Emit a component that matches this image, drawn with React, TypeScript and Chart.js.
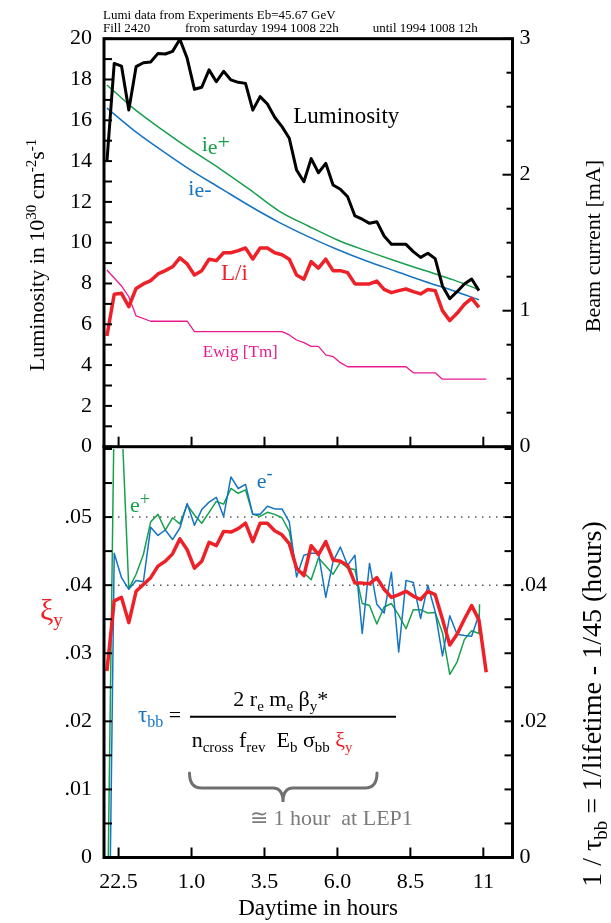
import React, { useEffect, useRef } from "react";
import { Chart, registerables } from "chart.js";

Chart.register(...registerables);

// ---------- data (time axis: hours after midnight, 22h of the previous day = -2) ----------
const hours = [
  -1.9, -1.65, -1.4, -1.15, -0.9, -0.65, -0.4, -0.15, 0.1, 0.35, 0.6, 0.85, 1.1, 1.35, 1.6, 1.85,
  2.1, 2.35, 2.6, 2.85, 3.1, 3.35, 3.6, 3.85, 4.1, 4.35, 4.6, 4.85, 5.1, 5.35, 5.6, 5.85, 6.1, 6.35,
  6.6, 6.85, 7.1, 7.35, 7.6, 7.85, 8.1, 8.35, 8.6, 8.85, 9.1, 9.35, 9.6, 9.85, 10.1, 10.35, 10.6,
  10.85, 11.1,
];

const luminosity = [
  13.97, 18.79, 18.66, 16.5, 18.63, 18.82, 18.86, 19.28, 19.25, 19.38, 19.97, 19.04, 17.52, 17.62,
  18.47, 17.89, 18.4, 17.98, 17.86, 17.81, 16.5, 17.16, 16.8, 16.15, 15.69, 15.12, 13.56, 12.99,
  14.12, 13.43, 13.89, 12.83, 12.62, 12.25, 11.31, 11.15, 10.95, 11.03, 10.33, 9.92, 9.92, 9.92,
  9.56, 9.28, 9.48, 9.22, 7.88, 7.25, 7.6, 7.98, 8.22, 7.65,
];

const lumiPerCurrent = [
  5.43, 7.47, 7.52, 6.86, 7.76, 7.98, 8.14, 8.47, 8.63, 8.82, 9.26, 8.96, 8.42, 8.63, 9.19, 9.12,
  9.51, 9.51, 9.61, 9.74, 9.2, 9.74, 9.74, 9.51, 9.41, 9.19, 8.42, 8.21, 9.07, 8.75, 9.19, 8.63,
  8.63, 8.53, 7.98, 7.98, 7.98, 8.12, 7.71, 7.55, 7.65, 7.73, 7.6, 7.49, 7.71, 7.65, 6.67, 6.18,
  6.54, 6.98, 7.27, 6.83,
];

const currentHours = [-1.9, -1, 0, 1, 2, 3, 4, 5, 6, 7, 8, 9, 10, 10.85];
const currentPositron = [2.66, 2.49, 2.33, 2.18, 2.04, 1.89, 1.733, 1.623, 1.52, 1.44, 1.365, 1.295, 1.225, 1.155];
const currentElectron = [2.49, 2.33, 2.175, 2.03, 1.9, 1.77, 1.65, 1.545, 1.45, 1.365, 1.29, 1.215, 1.145, 1.08];

const ewigHours = [-1.9, -1.4, -1.15, -0.9, -0.4, 0.85, 1.1, 4.1, 4.35, 4.6, 4.85, 5.1, 5.35, 5.6, 5.85, 6.1, 6.35, 8.35, 8.6, 9.35, 9.6, 11.1];
const ewig = [8.66, 7.88, 7.35, 6.41, 6.15, 6.15, 5.64, 5.64, 5.48, 5.23, 5.1, 4.92, 4.92, 4.5, 4.42, 4.12, 3.92, 3.92, 3.62, 3.62, 3.31, 3.31];

const xiY = [
  0.0274, 0.0377, 0.0382, 0.0345, 0.0391, 0.0401, 0.0411, 0.0428, 0.0435, 0.0446, 0.0468, 0.0452,
  0.0425, 0.0435, 0.0463, 0.0458, 0.0479, 0.0478, 0.0483, 0.0491, 0.0464, 0.0491, 0.0491, 0.048,
  0.0474, 0.0461, 0.0425, 0.0414, 0.0458, 0.0445, 0.0464, 0.0437, 0.0435, 0.0429, 0.0403, 0.0403,
  0.0402, 0.0411, 0.0394, 0.0382, 0.0386, 0.0391, 0.0384, 0.0379, 0.0391, 0.0386, 0.035, 0.0312,
  0.0328, 0.035, 0.037, 0.0349, 0.0272,
];

const tauInvPositron = [
  -0.015, 0.066, 0.065, 0.0395, 0.0416, 0.0445, 0.0493, 0.0504, 0.0481, 0.0499, 0.049, 0.0518,
  0.0503, 0.0491, 0.0507, 0.0523, 0.0519, 0.0542, 0.0535, 0.054, 0.0504, 0.0501, 0.0507, 0.0504,
  0.0499, 0.0479, 0.0423, 0.0418, 0.0408, 0.044, 0.0428, 0.0416, 0.0434, 0.0425, 0.0423, 0.0373,
  0.037, 0.0343, 0.0368, 0.0373, 0.0356, 0.0336, 0.0364, 0.0364, 0.0359, 0.036, 0.033, 0.0269,
  0.0287, 0.032, 0.0333, 0.0329, 0.0372,
];
const tauInvPositronLastHour = 10.87;

const tauInvElectron = [
  -0.04, 0.0447, 0.0411, 0.0394, 0.0407, 0.0405, 0.0485, 0.0473, 0.0481, 0.0467, 0.0484, 0.052,
  0.0488, 0.0511, 0.0522, 0.0529, 0.0501, 0.0559, 0.0542, 0.0548, 0.0504, 0.0504, 0.0516, 0.0512,
  0.0512, 0.0493, 0.0412, 0.0444, 0.0447, 0.0447, 0.0382, 0.0435, 0.0456, 0.0429, 0.0444, 0.0329,
  0.0432, 0.0372, 0.0359, 0.0419, 0.0302, 0.0407, 0.0404, 0.0351, 0.04, 0.0361, 0.0296, 0.0355,
  0.0328, 0.0326, 0.0325, 0.0357,
];

// ---------- ticks ----------
const xTickValues = [-1.5, 1, 3.5, 6, 8.5, 11];
const xTickLabels = ["22.5", "1.0", "3.5", "6.0", "8.5", "11"];
const lumTickValues = [0, 2, 4, 6, 8, 10, 12, 14, 16, 18, 20];
const beamTickValues = [0, 1, 2, 3];
const xiTickValues = [0, 0.01, 0.02, 0.03, 0.04, 0.05];
const xiTickLabels = ["0", ".01", ".02", ".03", ".04", ".05"];
const tauTickValues = [0, 0.02, 0.04];
const tauTickLabels = ["0", ".02", ".04"];
const dottedLevels = [0.04, 0.05];

// ---------- layout / style ----------
const SERIF = "'Liberation Serif', 'Times New Roman', Times, serif";
const RED = "#ee2128";
const GREEN = "#17a04c";
const BLUE = "#1574c2";
const MAGENTA = "#ea1a8e";
const GREY = "#7b7b7b";

const PAGE_W = 611;
const AREA_LEFT = 104;
const AREA_RIGHT = 512.5;
const H1 = 482;
const TOP1 = 38.7;
const BOTTOM1 = 446.7;
const C2_TOP = 412;
const H2 = 923 - C2_TOP;
const TOP2 = 449;
const BOTTOM2 = 857.5;

type Run = { t: string; size: number; dy?: number; color?: string };

function runsWidth(ctx: CanvasRenderingContext2D, runs: Run[]) {
  let w = 0;
  for (const r of runs) {
    ctx.font = `${r.size}px ${SERIF}`;
    w += ctx.measureText(r.t).width;
  }
  return w;
}

function drawRuns(ctx: CanvasRenderingContext2D, x: number, y: number, runs: Run[], color: string) {
  let cx = x;
  ctx.textAlign = "left";
  ctx.textBaseline = "alphabetic";
  for (const r of runs) {
    ctx.font = `${r.size}px ${SERIF}`;
    ctx.fillStyle = r.color || color;
    ctx.fillText(r.t, cx, y + (r.dy || 0));
    cx += ctx.measureText(r.t).width;
  }
  return cx;
}

function drawRotated(ctx: CanvasRenderingContext2D, cx: number, cy: number, runs: Run[], color: string) {
  const w = runsWidth(ctx, runs);
  ctx.save();
  ctx.translate(cx, cy);
  ctx.rotate(-Math.PI / 2);
  drawRuns(ctx, -w / 2, 0, runs, color);
  ctx.restore();
}

const toXY = (xs: number[], ys: number[]) => ys.map((y, i) => ({ x: xs[i], y }));

function fixedTicks(values: number[]) {
  return (scale: any) => {
    scale.ticks = values.map((v) => ({ value: v }));
  };
}

function tickFont() {
  return { family: SERIF, size: 22 };
}

function strokeTick(ctx: CanvasRenderingContext2D, x1: number, y1: number, x2: number, y2: number) {
  ctx.beginPath();
  ctx.moveTo(x1, y1);
  ctx.lineTo(x2, y2);
  ctx.stroke();
}

const topPanelPlugin = {
  id: "topPanel",
  afterDraw(chart: any) {
    const ctx: CanvasRenderingContext2D = chart.ctx;
    const { left, right, top, bottom } = chart.chartArea;
    const x = chart.scales.x;
    const yL = chart.scales.yL;
    const yR = chart.scales.yR;
    ctx.save();
    ctx.strokeStyle = "#000";
    ctx.lineWidth = 3;
    ctx.strokeRect(left, top, right - left, bottom - top);
    ctx.lineWidth = 2;
    for (let k = 0; k <= 20; k++) {
      const py = yL.getPixelForValue(k);
      strokeTick(ctx, left, py, left + 8, py);
    }
    for (let k = 0; k <= 12; k++) {
      const py = yR.getPixelForValue(k * 0.25);
      const len = k % 4 === 0 ? 10 : 6;
      strokeTick(ctx, right, py, right - len, py);
    }
    for (const v of xTickValues) {
      const px = x.getPixelForValue(v);
      strokeTick(ctx, px, bottom, px, bottom - 10);
    }

    // header
    drawRuns(ctx, 103, 18.5, [{ t: "Lumi data from Experiments Eb=45.67 GeV", size: 13 }], "#000");
    drawRuns(ctx, 103, 32, [{ t: "Fill 2420", size: 13 }], "#000");
    drawRuns(ctx, 185, 32, [{ t: "from saturday 1994 1008 22h", size: 13 }], "#000");
    drawRuns(ctx, 372.7, 32, [{ t: "until 1994 1008 12h", size: 13 }], "#000");

    // axis titles
    drawRotated(ctx, 44, 255, [
      { t: "Luminosity in 10", size: 22 },
      { t: "30", size: 15, dy: -8 },
      { t: " cm", size: 22 },
      { t: "-2", size: 15, dy: -8 },
      { t: "s", size: 22 },
      { t: "-1", size: 15, dy: -8 },
    ], "#000");
    drawRotated(ctx, 600, 246, [{ t: "Beam current [mA]", size: 22 }], "#000");

    // in-plot labels
    drawRuns(ctx, 293.3, 122.7, [{ t: "Luminosity", size: 23 }], "#000");
    drawRuns(ctx, 201.7, 150.7, [
      { t: "i", size: 22 },
      { t: "e", size: 22, dy: 3 },
      { t: "+", size: 22, dy: -2 },
    ], GREEN);
    drawRuns(ctx, 188.3, 195, [
      { t: "i", size: 22 },
      { t: "e", size: 22, dy: 2 },
      { t: "-", size: 22, dy: 1 },
    ], BLUE);
    drawRuns(ctx, 221, 280, [{ t: "L/i", size: 23 }], RED);
    drawRuns(ctx, 202.7, 357, [{ t: "Ewig [Tm]", size: 17 }], MAGENTA);
    ctx.restore();
  },
};

const bottomPanelPlugin = {
  id: "bottomPanel",
  beforeDatasetsDraw(chart: any) {
    const ctx: CanvasRenderingContext2D = chart.ctx;
    const { left, right } = chart.chartArea;
    const yL = chart.scales.yL;
    ctx.save();
    ctx.strokeStyle = "#555";
    ctx.lineWidth = 1.5;
    ctx.setLineDash([1.5, 5.5]);
    for (const v of dottedLevels) {
      const py = yL.getPixelForValue(v);
      strokeTick(ctx, left, py, right, py);
    }
    ctx.restore();
  },
  afterDraw(chart: any) {
    const ctx: CanvasRenderingContext2D = chart.ctx;
    const { left, right, bottom } = chart.chartArea;
    const x = chart.scales.x;
    const yL = chart.scales.yL;
    const yR = chart.scales.yR;
    const Y = (pageY: number) => pageY - C2_TOP;
    ctx.save();
    ctx.strokeStyle = "#000";
    ctx.lineWidth = 3;
    ctx.beginPath();
    ctx.moveTo(left, Y(445));
    ctx.lineTo(left, bottom);
    ctx.lineTo(right, bottom);
    ctx.lineTo(right, Y(445));
    ctx.stroke();
    ctx.lineWidth = 2;
    for (let k = 0; k <= 12; k++) {
      const pl = yL.getPixelForValue(k * 0.005);
      strokeTick(ctx, left, pl, left + 8, pl);
      const pr = yR.getPixelForValue(k * 0.005);
      strokeTick(ctx, right, pr, right - 8, pr);
    }
    for (const v of xTickValues) {
      const px = x.getPixelForValue(v);
      strokeTick(ctx, px, bottom, px, bottom - 10);
    }

    // axis titles
    drawRuns(ctx, 40, Y(620), [
      { t: "ξ", size: 30 },
      { t: "y", size: 19, dy: 6 },
    ], RED);
    drawRotated(ctx, 601, Y(704), [
      { t: "1 / ", size: 28 },
      { t: "τ", size: 28 },
      { t: "bb", size: 19, dy: 6 },
      { t: " = 1/lifetime - 1/45 (hours)", size: 28 },
    ], "#000");
    ctx.font = `23px ${SERIF}`;
    ctx.fillStyle = "#000";
    ctx.textAlign = "center";
    ctx.textBaseline = "alphabetic";
    ctx.fillText("Daytime in hours", 318, Y(915));

    // in-plot labels
    drawRuns(ctx, 130, Y(511.5), [
      { t: "e", size: 22 },
      { t: "+", size: 18, dy: -7 },
    ], GREEN);
    drawRuns(ctx, 256.7, Y(488), [
      { t: "e", size: 22 },
      { t: "-", size: 18, dy: -9 },
    ], BLUE);

    // formula
    drawRuns(ctx, 138, Y(722), [
      { t: "τ", size: 23, color: BLUE },
      { t: "bb", size: 16, dy: 5, color: BLUE },
      { t: " =", size: 22 },
    ], "#000");
    ctx.lineWidth = 2;
    strokeTick(ctx, 190, Y(716.7), 396, Y(716.7));
    drawRuns(ctx, 233.3, Y(706), [
      { t: "2 r", size: 22 },
      { t: "e", size: 15, dy: 5 },
      { t: " m", size: 22 },
      { t: "e", size: 15, dy: 5 },
      { t: " β", size: 22 },
      { t: "y", size: 15, dy: 5 },
      { t: "*", size: 22 },
    ], "#000");
    drawRuns(ctx, 191.7, Y(746.7), [
      { t: "n", size: 22 },
      { t: "cross", size: 15, dy: 5 },
      { t: " f", size: 22 },
      { t: "rev", size: 15, dy: 5 },
      { t: "  E", size: 22 },
      { t: "b", size: 15, dy: 5 },
      { t: " σ", size: 22 },
      { t: "bb", size: 15, dy: 5 },
      { t: " ξ", size: 22, color: RED },
      { t: "y", size: 15, dy: 5, color: RED },
    ], "#000");

    // brace
    ctx.strokeStyle = "#707070";
    ctx.lineWidth = 3;
    ctx.lineCap = "round";
    const xl = 189.5, xr = 377, xm = 283;
    const yt = Y(773), ym = Y(788), yb = Y(802);
    ctx.beginPath();
    ctx.moveTo(xl, yt);
    ctx.quadraticCurveTo(xl, ym, xl + 12, ym);
    ctx.lineTo(xm - 10, ym);
    ctx.quadraticCurveTo(xm, ym, xm, yb);
    ctx.quadraticCurveTo(xm, ym, xm + 10, ym);
    ctx.lineTo(xr - 12, ym);
    ctx.quadraticCurveTo(xr, ym, xr, yt);
    ctx.stroke();
    drawRuns(ctx, 250, Y(825), [{ t: "≅ 1 hour  at LEP1", size: 22 }], GREY);
    ctx.restore();
  },
};

function yAxis(position: "left" | "right", min: number, max: number, values: number[], labels: string[] | null, width: number) {
  return {
    type: "linear" as const,
    position,
    min,
    max,
    afterBuildTicks: fixedTicks(values),
    afterFit: (s: any) => {
      s.width = width;
    },
    ticks: {
      font: tickFont(),
      color: "#000",
      padding: position === "left" ? 12 : 7,
      callback: (v: any, i: number) => (labels ? labels[i] : String(v)),
    },
    grid: { display: false, drawTicks: false },
    border: { display: false },
  };
}

export default function App() {
  const ref1 = useRef<HTMLCanvasElement>(null);
  const ref2 = useRef<HTMLCanvasElement>(null);

  useEffect(() => {
    const common = {
      animation: false as const,
      responsive: false,
      maintainAspectRatio: false,
      elements: { point: { radius: 0 }, line: { tension: 0, borderJoinStyle: "round" as const } },
      plugins: { legend: { display: false }, tooltip: { enabled: false } },
    };

    const c1 = new Chart(ref1.current!, {
      type: "line",
      data: {
        datasets: [
          { label: "Luminosity", data: toXY(hours, luminosity), borderColor: "#000", borderWidth: 3, yAxisID: "yL" },
          { label: "L/i", data: toXY(hours, lumiPerCurrent), borderColor: RED, borderWidth: 3.5, yAxisID: "yL" },
          { label: "ie+", data: toXY(currentHours, currentPositron), borderColor: GREEN, borderWidth: 1.5, yAxisID: "yR", cubicInterpolationMode: "monotone" },
          { label: "ie-", data: toXY(currentHours, currentElectron), borderColor: BLUE, borderWidth: 1.5, yAxisID: "yR", cubicInterpolationMode: "monotone" },
          { label: "Ewig [Tm]", data: toXY(ewigHours, ewig), borderColor: MAGENTA, borderWidth: 1.3, yAxisID: "yL" },
        ],
      },
      options: {
        ...common,
        layout: { padding: { left: 0, right: 0, top: TOP1, bottom: H1 - BOTTOM1 } },
        scales: {
          x: { type: "linear", min: -2, max: 12, display: false },
          yL: yAxis("left", 0, 20, lumTickValues, null, AREA_LEFT),
          yR: yAxis("right", 0, 3, beamTickValues, null, PAGE_W - AREA_RIGHT),
        },
      } as any,
      plugins: [topPanelPlugin],
    } as any);

    const positronHours = [...hours.slice(0, tauInvPositron.length - 1), tauInvPositronLastHour];

    const c2 = new Chart(ref2.current!, {
      type: "line",
      data: {
        datasets: [
          { label: "xi_y", data: toXY(hours, xiY), borderColor: RED, borderWidth: 3.5, yAxisID: "yL" },
          { label: "e-", data: toXY(hours, tauInvElectron), borderColor: BLUE, borderWidth: 1.5, yAxisID: "yR" },
          { label: "e+", data: toXY(positronHours, tauInvPositron), borderColor: GREEN, borderWidth: 1.5, yAxisID: "yR" },
        ],
      },
      options: {
        ...common,
        layout: { padding: { left: 0, right: 0, top: TOP2 - C2_TOP, bottom: 0 } },
        scales: {
          x: {
            type: "linear",
            position: "bottom",
            min: -2,
            max: 12,
            afterBuildTicks: fixedTicks(xTickValues),
            afterFit: (s: any) => {
              s.height = H2 - (BOTTOM2 - C2_TOP);
            },
            ticks: {
              font: tickFont(),
              color: "#000",
              padding: 12,
              maxRotation: 0,
              autoSkip: false,
              callback: (_v: any, i: number) => xTickLabels[i],
            },
            grid: { display: false, drawTicks: false },
            border: { display: false },
          },
          yL: yAxis("left", 0, 0.06, xiTickValues, xiTickLabels, AREA_LEFT),
          yR: yAxis("right", 0, 0.06, tauTickValues, tauTickLabels, PAGE_W - AREA_RIGHT),
        },
      } as any,
      plugins: [bottomPanelPlugin],
    } as any);

    return () => {
      c1.destroy();
      c2.destroy();
    };
  }, []);

  return (
    <div style={{ position: "absolute", left: 0, top: 0, width: PAGE_W, height: 923, background: "#fff" }}>
      <canvas ref={ref1} width={PAGE_W} height={H1} style={{ position: "absolute", left: 0, top: 0 }} />
      <canvas ref={ref2} width={PAGE_W} height={H2} style={{ position: "absolute", left: 0, top: C2_TOP }} />
    </div>
  );
}
